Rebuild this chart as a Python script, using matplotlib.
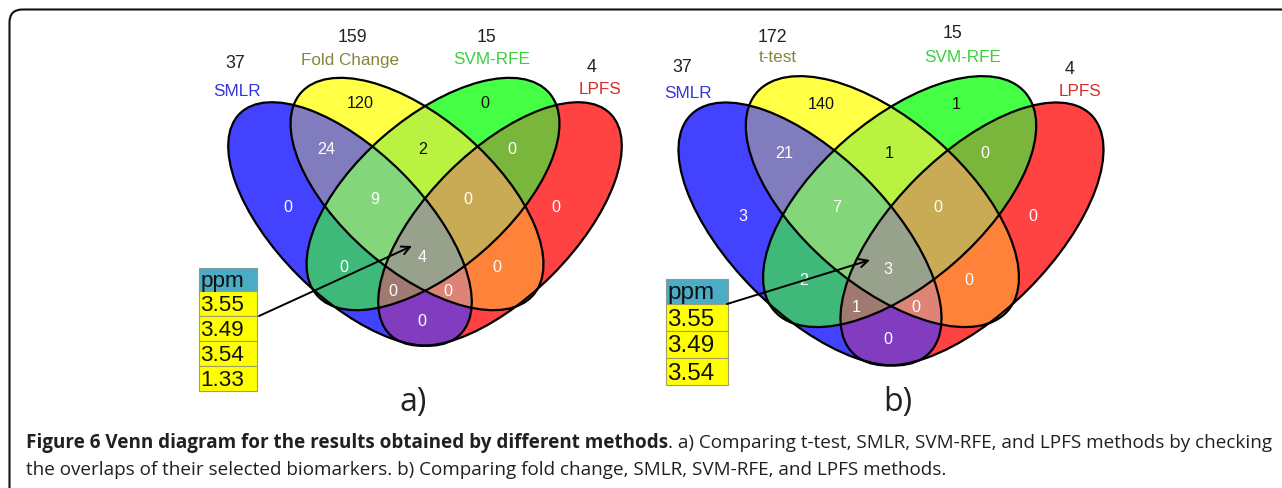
import numpy as np
import matplotlib
matplotlib.use("Agg")
import matplotlib.pyplot as plt
from matplotlib.patches import Ellipse, FancyBboxPatch, Rectangle

# ---------------- data ----------------
set_names_a = ["SMLR", "Fold Change", "SVM-RFE", "LPFS"]
set_totals_a = [37, 159, 15, 4]
set_names_b = ["SMLR", "t-test", "SVM-RFE", "LPFS"]
set_totals_b = [37, 172, 15, 4]

# region keys: membership in (SMLR, 2nd method, SVM-RFE, LPFS)
region_keys = ["1000", "0100", "0010", "0001", "1100", "0110", "0011",
               "1110", "0111", "1111", "1010", "0101", "1011", "1101", "1001"]
counts_a = [0, 120, 0, 0, 24, 2, 0, 9, 0, 4, 0, 0, 0, 0, 0]
counts_b = [3, 140, 1, 0, 21, 1, 0, 7, 0, 3, 2, 0, 1, 0, 0]

ppm_header = "ppm"
ppm_a = ["3.55", "3.49", "3.54", "1.33"]
ppm_b = ["3.55", "3.49", "3.54"]

caption_bold = "Figure 6 Venn diagram for the results obtained by different methods"
caption_rest1 = ". a) Comparing t-test, SMLR, SVM-RFE, and LPFS methods by checking"
caption_line2 = "the overlaps of their selected biomarkers. b) Comparing fold change, SMLR, SVM-RFE, and LPFS methods."

# ---------------- style / layout ----------------
W, H = 1282, 489
REGION_COLORS = {
    "1000": (66, 66, 255), "0100": (255, 255, 70), "0010": (70, 255, 70), "0001": (255, 66, 66),
    "1100": (128, 124, 190), "0110": (186, 242, 64), "0011": (122, 182, 60),
    "1110": (132, 214, 122), "0111": (200, 172, 84), "1111": (152, 162, 140),
    "1010": (62, 186, 122), "0101": (255, 130, 58), "1011": (160, 122, 112),
    "1101": (222, 132, 118), "1001": (130, 60, 192),
}
DARK_TEXT = {"0100", "0010", "0110"}
# ellipse geometry relative to panel reference point (panel a scale)
ELL = [(-75, 25, 156, 73, 45), (-8, -5, 154, 76, 41), (8, -5, 154, 76, -41), (75, 25, 156, 73, -45)]
REGION_POS = {
    "1000": (-137, 8), "0100": (-65, -96), "0010": (60, -96), "0001": (131, 8),
    "1100": (-99, -50), "0110": (-2, -50), "0011": (87, -50),
    "1110": (-50, 0), "0111": (43, 0), "1111": (-3, 57),
    "1010": (-81, 67), "0101": (72, 67), "1011": (-32, 92), "1101": (23, 92), "1001": (-3, 122),
}
LABEL_COLORS = ["#3535d8", "#86863a", "#3ccf3c", "#dc2a2a"]

panels = [
    dict(ref=(425, 200), s=1.0, names=set_names_a, totals=set_totals_a, counts=counts_a,
         name_pos=[(237, 92), (350, 60), (492, 60), (600, 90)],
         tot_pos=[(235, 63), (352, 38), (487, 38), (592, 68)],
         table=dict(x=198.5, w=58, y=268.5, hh=23.5, rh=25.0, fs=16.2), ppm=ppm_a,
         arrow=((259, 317), (412, 247)), tag="a)", tag_pos=(413, 403)),
    dict(ref=(891, 208), s=1.08, names=set_names_b, totals=set_totals_b, counts=counts_b,
         name_pos=[(688, 93), (778, 58), (963, 58), (1080, 91)],
         tot_pos=[(682, 68), (772, 38), (952, 33), (1070, 69)],
         table=dict(x=665.5, w=62, y=279.5, hh=25.5, rh=27.0, fs=17.5), ppm=ppm_b,
         arrow=((727, 305), (870, 261)), tag="b)", tag_pos=(898, 403)),
]

fig = plt.figure(figsize=(W / 100, H / 100), dpi=100)
ax = fig.add_axes([0, 0, 1, 1])
ax.axis("off")

lut = np.zeros((16, 4))
for k, c in REGION_COLORS.items():
    lut[int(k, 2), :3] = np.array(c) / 255.0
    lut[int(k, 2), 3] = 1.0


def region_image(ref, s, ss=4):
    x0, x1 = int(ref[0] - 260 * s), int(ref[0] + 260 * s)
    y0, y1 = int(ref[1] - 140 * s), int(ref[1] + 165 * s)
    nx, ny = x1 - x0, y1 - y0
    xs = x0 + (np.arange(nx * ss) + 0.5) / ss
    ys = y0 + (np.arange(ny * ss) + 0.5) / ss
    X, Y = np.meshgrid(xs, ys)
    code = np.zeros(X.shape, dtype=int)
    for bit, (dx, dy, a, b, ang) in enumerate(ELL):
        cx, cy = ref[0] + dx * s, ref[1] + dy * s
        t = np.deg2rad(ang)
        u = ((X - cx) * np.cos(t) + (Y - cy) * np.sin(t)) / (a * s)
        v = (-(X - cx) * np.sin(t) + (Y - cy) * np.cos(t)) / (b * s)
        code |= ((u * u + v * v) <= 1).astype(int) << (3 - bit)
    samp = lut[code].reshape(ny, ss, nx, ss, 4)
    alpha = samp[..., 3].mean(axis=(1, 3))
    rgb_sum = (samp[..., :3] * samp[..., 3:4]).sum(axis=(1, 3))
    cnt = samp[..., 3].sum(axis=(1, 3))
    rgb = rgb_sum / np.maximum(cnt, 1e-9)[..., None]
    rgba = np.dstack([rgb, alpha])
    return rgba, (x0, x1, y1, y0)


for p in panels:
    ref, s = p["ref"], p["s"]
    img, ext = region_image(ref, s)
    ax.imshow(img, extent=ext, interpolation="nearest", zorder=1)
    for (dx, dy, a, b, ang) in ELL:
        ax.add_patch(Ellipse((ref[0] + dx * s, ref[1] + dy * s), 2 * a * s, 2 * b * s,
                             angle=ang, fill=False, ec="black", lw=1.6, zorder=2))
    for key, cnt in zip(region_keys, p["counts"]):
        dx, dy = REGION_POS[key]
        ax.text(ref[0] + dx * s, ref[1] + dy * s, str(cnt), ha="center", va="center",
                fontsize=11.6, family="Liberation Sans",
                color="#111111" if key in DARK_TEXT else "white", zorder=4)
    for name, tot, npos, tpos, col in zip(p["names"], p["totals"], p["name_pos"], p["tot_pos"], LABEL_COLORS):
        ax.text(*npos, name, ha="center", va="center", fontsize=12.3, family="Liberation Sans",
                color=col, zorder=4)
        ax.text(*tpos, str(tot), ha="center", va="center", fontsize=12.8, family="Liberation Sans",
                color="#222222", zorder=4)
    # ppm table
    t = p["table"]
    ax.add_patch(Rectangle((t["x"], t["y"]), t["w"], t["hh"], fc="#4bacc6", ec="#8a9a9a", lw=0.8, zorder=3))
    ax.text(t["x"] + 2, t["y"] + t["hh"] / 2 + 1, ppm_header, ha="left", va="center",
            fontsize=t["fs"], family="Liberation Sans", color="#111111", zorder=4)
    for i, val in enumerate(p["ppm"]):
        yy = t["y"] + t["hh"] + i * t["rh"]
        ax.add_patch(Rectangle((t["x"], yy), t["w"], t["rh"], fc="#ffff00", ec="#a0a060", lw=0.8, zorder=3))
        ax.text(t["x"] + 2, yy + t["rh"] / 2 + 1, val, ha="left", va="center",
                fontsize=t["fs"], family="Liberation Sans", color="#111111", zorder=4)
    (sx, sy), (ex, ey) = p["arrow"]
    ax.annotate("", xy=(ex, ey), xytext=(sx, sy),
                arrowprops=dict(arrowstyle="->,head_length=0.6,head_width=0.3", lw=1.4, color="black",
                                shrinkA=0, shrinkB=0), zorder=5)
    ax.text(*p["tag_pos"], p["tag"], ha="center", va="center", fontsize=23, family="Open Sans",
            color="#222222", zorder=4)

# border (top-left rounded corner; right and bottom run off the picture)
ax.add_patch(FancyBboxPatch((9.5, 10.5), 1400, 600, boxstyle="round,pad=0,rounding_size=13",
                            fill=False, ec="#111111", lw=1.5, zorder=6))

ax.set_xlim(0, W)
ax.set_ylim(H, 0)
ax.set_aspect("auto")

# caption: measure to fit the first line to its width
renderer = fig.canvas.get_renderer()
x_start, x_end = 26, 1275
fs = 11.0
for _ in range(4):
    t1 = ax.text(x_start, 448, caption_bold, fontsize=fs, fontweight="bold", family="Open Sans",
                 ha="left", va="baseline")
    t2 = ax.text(x_start, 448, caption_rest1, fontsize=fs, family="Open Sans",
                 ha="left", va="baseline")
    w1 = t1.get_window_extent(renderer).width
    w2 = t2.get_window_extent(renderer).width
    t1.remove()
    t2.remove()
    fs *= (x_end - x_start) / (w1 + w2)

t1 = ax.text(x_start, 448, caption_bold, fontsize=fs, fontweight="bold", family="Open Sans",
             ha="left", va="baseline", color="#231f20")
w1 = t1.get_window_extent(renderer).width
ax.text(x_start + w1, 448, caption_rest1, fontsize=fs, family="Open Sans",
        ha="left", va="baseline", color="#231f20")
ax.text(x_start, 475, caption_line2, fontsize=fs, family="Open Sans", ha="left", va="baseline",
        color="#231f20")

fig.savefig("out.png", dpi=100)
